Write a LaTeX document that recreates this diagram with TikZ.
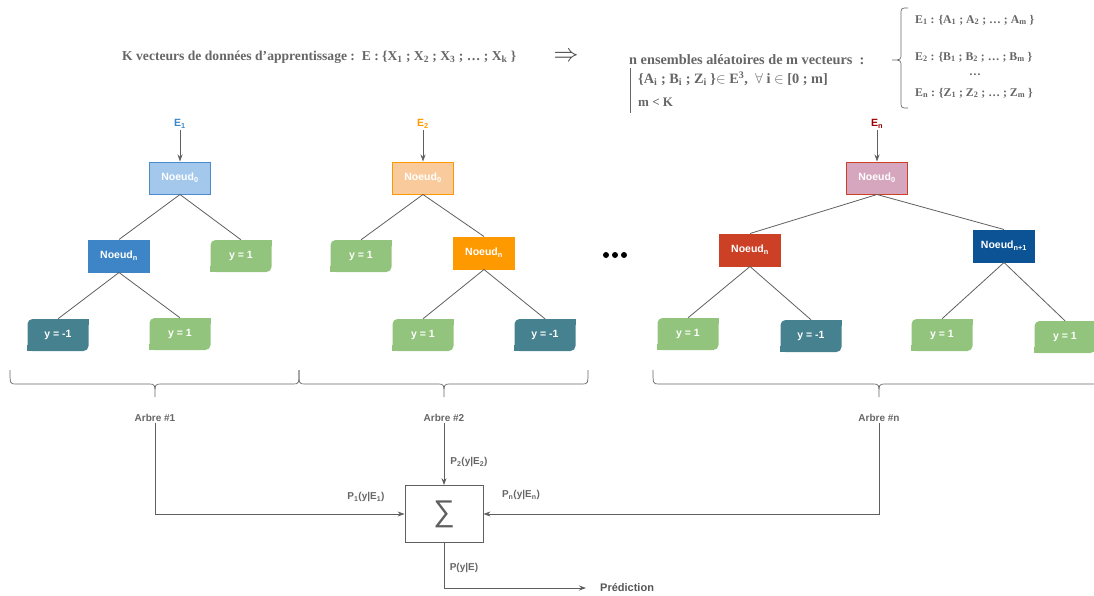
\documentclass[tikz,border=0pt]{standalone}
\usepackage{fontspec}
\setmainfont{Liberation Serif}
\setsansfont{Liberation Sans}
\usetikzlibrary{arrows.meta}
\definecolor{txt}{HTML}{666666}
\definecolor{lnc}{HTML}{5F5F5F}
\definecolor{lblue}{HTML}{A4C8EC}
\definecolor{lbluebd}{HTML}{4A8BD0}
\definecolor{mblue}{HTML}{3D85C6}
\definecolor{lgreen}{HTML}{93C47D}
\definecolor{teal}{HTML}{45818E}
\definecolor{lorange}{HTML}{F9CB9C}
\definecolor{orange}{HTML}{FF9900}
\definecolor{pink}{HTML}{D5A6BD}
\definecolor{dred}{HTML}{CC4125}
\definecolor{bred}{HTML}{990000}
\definecolor{dblue}{HTML}{0B5394}
\newcommand\leafnode[4]{%
  \node[leaf,fill=#3] (#1) at (#2) {#4};
  \fill[#3] (#1.north east) rectangle ++(-6pt,-6pt);
  \fill[#3] (#1.south west) rectangle ++(6pt,6pt);}
\begin{document}
\begin{tikzpicture}[x=1pt,y=-1pt,
  hdr/.style={anchor=west,inner sep=0pt,text=txt,font=\fontsize{12.5}{14}\selectfont\bfseries},
  nd/.style={draw,line width=1pt,minimum width=61pt,minimum height=32pt,inner sep=0pt,
     text=white,font=\sffamily\bfseries\fontsize{10.5}{12}\selectfont},
  leaf/.style={rounded corners=5pt,minimum width=61pt,minimum height=32pt,inner sep=0pt,
     text=white,font=\sffamily\bfseries\fontsize{10.5}{12}\selectfont},
  elab/.style={inner sep=1.5pt,font=\sffamily\bfseries\fontsize{10.5}{12}\selectfont},
  lab/.style={inner sep=1pt,text=txt,font=\sffamily\bfseries\fontsize{10}{11}\selectfont},
  edge/.style={draw=lnc,line width=0.8pt},
  conn/.style={draw=lnc,line width=0.8pt,-{Stealth[length=7pt,width=5pt]}},
  brc/.style={draw=txt,line width=0.7pt}]
\useasboundingbox (0,0) rectangle (1094,595);

% ---------- header ----------
\node[hdr,font=\fontsize{13.6}{15}\selectfont\bfseries] (h1) at (122,57) {K vecteurs de données d’apprentissage :\enspace E : \{X\textsubscript{1} ; X\textsubscript{2} ; X\textsubscript{3} ; … ; X\textsubscript{k} \}};
\node[text=black!75,inner sep=0pt] (imp) at (566,57) {\fontsize{23}{23}\selectfont$\Rightarrow$};
\node[hdr,font=\fontsize{14.3}{15}\selectfont\bfseries] (h2) at (629,60) {n ensembles aléatoires de m vecteurs\ \ :};
\draw[brc] (630,68) -- (630,113);
\node[hdr,font=\fontsize{14.3}{15}\selectfont\bfseries] (h3) at (638,79) {\{A\textsubscript{i} ; B\textsubscript{i} ; Z\textsubscript{i} \}$\in$ E\textsuperscript{3},\enspace$\forall$ i $\in$ [0 ; m]};
\node[hdr,font=\fontsize{13}{15}\selectfont\bfseries] (h4) at (638,102) {m < K};
\draw[brc] (908,8) .. controls (901,8) .. (901,15) -- (901,53) .. controls (901,60) .. (892,60)
  .. controls (901,60) .. (901,67) -- (901,101) .. controls (901,108) .. (908,108);
\node[hdr,font=\fontsize{11.8}{14}\selectfont\bfseries] (l1) at (915,20) {E\textsubscript{1} : \{A\textsubscript{1} ; A\textsubscript{2} ; … ; A\textsubscript{m} \}};
\node[hdr,font=\fontsize{11.8}{14}\selectfont\bfseries] (l2) at (915,57) {E\textsubscript{2} : \{B\textsubscript{1} ; B\textsubscript{2} ; … ; B\textsubscript{m} \}};
\node[hdr,anchor=center,font=\fontsize{11.8}{14}\selectfont\bfseries] (l3) at (975,75) {…};
\node[hdr,font=\fontsize{11.8}{14}\selectfont\bfseries] (l4) at (915,93) {E\textsubscript{n} : \{Z\textsubscript{1} ; Z\textsubscript{2} ; … ; Z\textsubscript{m} \}};

% ---------- tree 1 ----------
\node[elab,text=mblue] (e1) at (180,124) {E\textsubscript{1}};
\node[nd,fill=lblue,draw=lbluebd] (a0) at (180,178) {Noeud\textsubscript{0}};
\node[nd,fill=mblue,draw=mblue] (an) at (119,256) {Noeud\textsubscript{n}};
\leafnode{ar}{241,256}{lgreen}{y = 1}
\leafnode{all}{58,335}{teal}{y = -1}
\leafnode{alr}{180,334}{lgreen}{y = 1}
\draw[conn] (e1) -- (a0);
\draw[edge] (a0.south) -- (an.north);
\draw[edge] (a0.south) -- (ar.north);
\draw[edge] (an.south) -- (all.north);
\draw[edge] (an.south) -- (alr.north);

% ---------- tree 2 ----------
\node[elab,text=orange] (e2) at (423,124) {E\textsubscript{2}};
\node[nd,fill=lorange,draw=orange] (b0) at (423,178) {Noeud\textsubscript{0}};
\leafnode{bl}{361,256}{lgreen}{y = 1}
\node[nd,fill=orange,draw=orange] (bn) at (484,253) {Noeud\textsubscript{n}};
\leafnode{brl}{423,335}{lgreen}{y = 1}
\leafnode{brr}{545,335}{teal}{y = -1}
\draw[conn] (e2) -- (b0);
\draw[edge] (b0.south) -- (bl.north);
\draw[edge] (b0.south) -- (bn.north);
\draw[edge] (bn.south) -- (brl.north);
\draw[edge] (bn.south) -- (brr.north);

% ---------- ellipsis ----------
\fill[black] (606,255) circle (3pt) (615,255) circle (3pt) (624,255) circle (3pt);

% ---------- tree n ----------
\node[elab,text=bred] (en) at (877,124) {E\textsubscript{n}};
\node[nd,fill=pink,draw=dred] (c0) at (877,178) {Noeud\textsubscript{0}};
\node[nd,fill=dred,draw=dred] (cn) at (750,250) {Noeud\textsubscript{n}};
\node[nd,fill=dblue,draw=dblue] (cm) at (1004,246) {Noeud\textsubscript{n+1}};
\leafnode{cll}{688,334}{lgreen}{y = 1}
\leafnode{clr}{811,336}{teal}{y = -1}
\leafnode{crl}{942,335}{lgreen}{y = 1}
\leafnode{crr}{1065,337}{lgreen}{y = 1}
\draw[conn] (en) -- (c0);
\draw[edge] (c0.south) -- (cn.north);
\draw[edge] (c0.south) -- (cm.north);
\draw[edge] (cn.south) -- (cll.north);
\draw[edge] (cn.south) -- (clr.north);
\draw[edge] (cm.south) -- (crl.north);
\draw[edge] (cm.south) -- (crr.north);

% ---------- braces ----------
\draw[brc] (10,370) .. controls (10,384) .. (16,384) -- (149,384) .. controls (155,384) .. (155,397)
  .. controls (155,384) .. (161,384) -- (293,384) .. controls (299,384) .. (299,370);
\draw[brc] (299,370) .. controls (299,384) .. (305,384) -- (438,384) .. controls (444,384) .. (444,397)
  .. controls (444,384) .. (450,384) -- (582,384) .. controls (588,384) .. (588,370);
\draw[brc] (653,370) .. controls (653,384) .. (659,384) -- (873,384) .. controls (879,384) .. (879,397)
  .. controls (879,384) .. (885,384) -- (1100,384);

\node[lab] (t1) at (155,418) {Arbre \#1};
\node[lab] (t2) at (444,418) {Arbre \#2};
\node[lab] (tn) at (879,418) {Arbre \#n};

% ---------- sum ----------
\node[draw=lnc,line width=0.8pt,minimum width=78pt,minimum height=57pt,inner sep=0pt,text=lnc] (sum) at (444,514)
  {\sffamily\fontsize{30}{30}\selectfont ∑};
\draw[conn] (t1) |- (sum.west);
\draw[conn] (t2) -- (sum.north);
\draw[conn] (tn) |- (sum.east);
\node[lab,anchor=west,inner sep=0pt,text=txt!85!black,font=\sffamily\bfseries\fontsize{11}{12}\selectfont] (pred) at (600,588) {Prédiction};
\draw[conn,shorten >=14pt] (sum.south) |- (pred.west);

\node[lab] (p1) at (366,497) {P\textsubscript{1}(y|E\textsubscript{1})};
\node[lab] (p2) at (469,462) {P\textsubscript{2}(y|E\textsubscript{2})};
\node[lab] (pn) at (521,495) {P\textsubscript{n}(y|E\textsubscript{n})};
\node[lab] (pe) at (464,568) {P(y|E)};
\end{tikzpicture}
\end{document}
